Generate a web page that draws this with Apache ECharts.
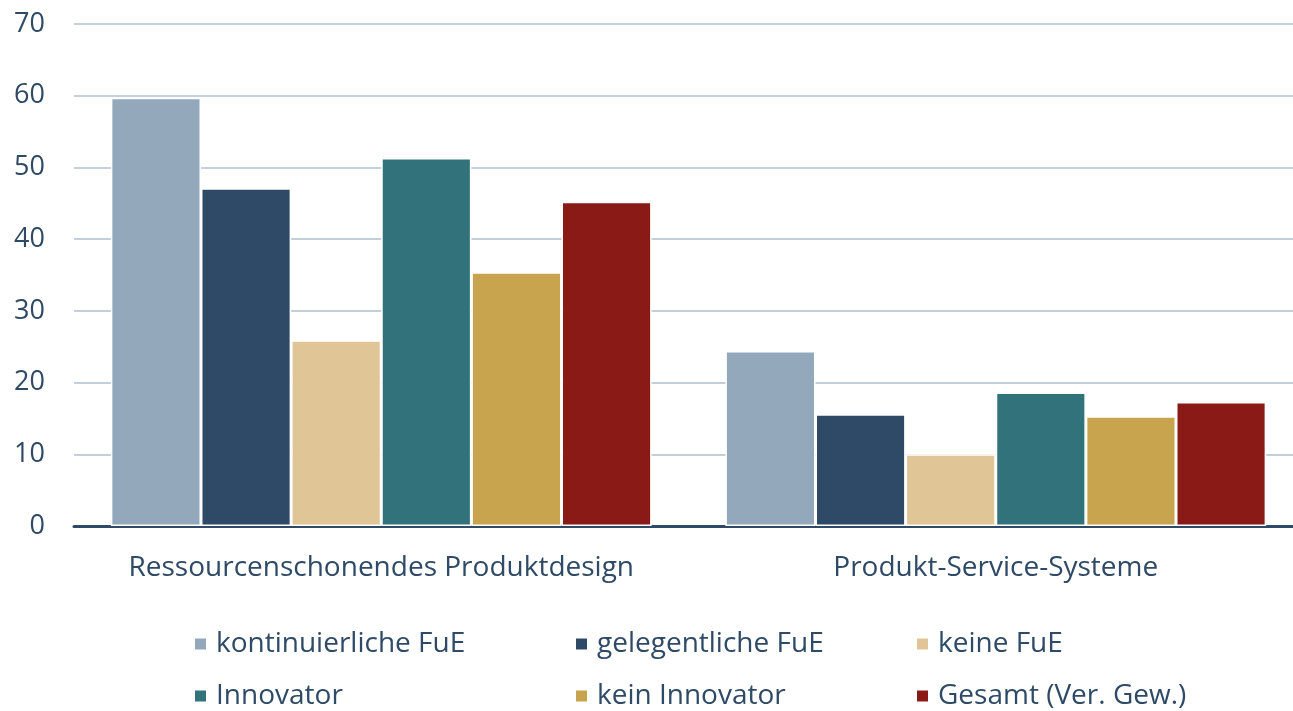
<!DOCTYPE html>
<html>
<head>
<meta charset="utf-8">
<script src="https://cdn.jsdelivr.net/npm/echarts@6/dist/echarts.min.js"></script>
<style>
  html, body {margin:0; padding:0; background:#fff;}
  #chart {width:1293px; height:711px;}
</style>
</head>
<body>
<div id="chart"></div>
<script>
// data
const categories = ['Ressourcenschonendes Produktdesign', 'Produkt-Service-Systeme']
const seriesNames = ['kontinuierliche FuE', 'gelegentliche FuE', 'keine FuE', 'Innovator', 'kein Innovator', 'Gesamt (Ver. Gew.)']
const kontinuierlich = [59.7, 24.4]
const gelegentlich = [47.1, 15.6]
const keineFuE = [25.9, 10.0]
const innovator = [51.3, 18.6]
const keinInnovator = [35.4, 15.3]
const gesamt = [45.2, 17.3]
const yTicks = [0, 10, 20, 30, 40, 50, 60, 70]

const colors = ['#94a8bc', '#2e4a66', '#e0c596', '#32737b', '#c9a44f', '#8a1a15']
const values = [kontinuierlich, gelegentlich, keineFuE, innovator, keinInnovator, gesamt]
const textColor = '#2e4a66'
const fontFamily = '"Open Sans", sans-serif'

const chart = echarts.init(document.getElementById('chart'))

// one legend per entry so the 3x2 layout lines up in columns
const legendPos = [[193, 630], [574, 630], [915, 630], [193, 682], [574, 682], [915, 682]]
const legends = seriesNames.map((name, i) => ({
    data: [name],
    left: legendPos[i][0],
    top: legendPos[i][1],
    padding: 0,
    icon: 'rect',
    itemWidth: 13,
    itemHeight: 13,
    itemGap: 0,
    textStyle: {color: textColor, fontSize: 28, fontFamily: fontFamily, padding: [0, 0, 0, 4]}
}))

chart.setOption({
    animation: false,
    color: colors,
    legend: legends,
    // the plot runs off the right edge, like the original
    grid: {left: 74, right: -10, top: 24, bottom: 185, containLabel: false, outerBoundsMode: 'none'},
    xAxis: {
        type: 'category',
        data: categories,
        axisTick: {show: false},
        axisLine: {lineStyle: {color: '#2f4a66', width: 3}},
        axisLabel: {color: textColor, fontSize: 28, fontFamily: fontFamily, margin: 28, interval: 0}
    },
    yAxis: {
        type: 'value',
        min: yTicks[0],
        max: yTicks[yTicks.length - 1],
        interval: 10,
        axisLine: {show: false},
        axisTick: {show: false},
        axisLabel: {color: textColor, fontSize: 27, fontFamily: fontFamily, margin: 29},
        splitLine: {lineStyle: {color: '#c3d0dc', width: 2}}
    },
    series: seriesNames.map((name, i) => ({
        name: name,
        type: 'bar',
        data: values[i],
        barGap: '0%',
        barCategoryGap: '12%',
        itemStyle: {color: colors[i], borderColor: '#fff', borderWidth: 1.5}
    }))
})
</script>
</body>
</html>
